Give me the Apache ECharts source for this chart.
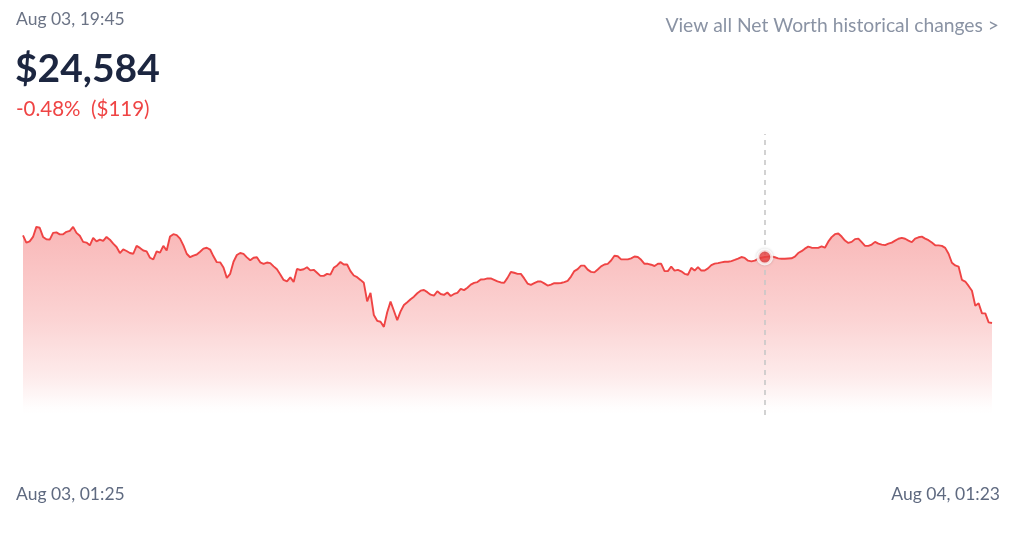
<!DOCTYPE html>
<html>
<head>
<meta charset="utf-8">
<script src="https://cdn.jsdelivr.net/npm/echarts@6/dist/echarts.min.js"></script>
<style>
html,body{margin:0;padding:0;background:#fff;}
#chart{width:1024px;height:533px;}
</style>
</head>
<body>
<div id="chart"></div>
<script>
// ---- data ----
const startLabel = 'Aug 03, 01:25';
const endLabel = 'Aug 04, 01:23';
const hoverLabel = 'Aug 03, 19:45';
const hoverValueText = '$24,584';
const changeText = '-0.48%  ($119)';
const linkText = 'View all Net Worth historical changes >';
const hoverIndex = 222;

const values = [
24703,24663,24670,24694,24749,24744,24694,24681,24679,24716,
24719,24708,24708,24722,24727,24749,24716,24700,24667,24663,
24648,24689,24670,24679,24672,24694,24679,24657,24639,24606,
24626,24617,24606,24602,24645,24634,24620,24615,24580,24571,
24615,24608,24645,24620,24696,24709,24704,24685,24648,24602,
24583,24592,24598,24613,24630,24635,24625,24588,24556,24555,
24527,24470,24492,24558,24595,24606,24601,24582,24566,24580,
24583,24555,24547,24554,24551,24533,24517,24489,24459,24451,
24473,24448,24519,24513,24517,24528,24511,24514,24498,24481,
24481,24492,24488,24525,24538,24557,24543,24543,24507,24483,
24474,24459,24443,24342,24388,24267,24235,24230,24202,24282,
24340,24290,24239,24287,24322,24337,24353,24367,24386,24400,
24404,24392,24378,24373,24397,24382,24377,24390,24371,24382,
24388,24410,24403,24416,24433,24443,24447,24461,24462,24467,
24467,24459,24451,24445,24443,24470,24502,24498,24492,24492,
24467,24439,24432,24441,24450,24450,24440,24428,24433,24441,
24441,24442,24447,24454,24477,24507,24518,24537,24537,24515,
24503,24500,24516,24533,24543,24547,24565,24591,24588,24571,
24571,24571,24577,24587,24584,24569,24547,24547,24542,24535,
24547,24547,24507,24507,24532,24510,24514,24506,24492,24487,
24525,24510,24529,24510,24510,24522,24540,24548,24551,24555,
24558,24558,24562,24568,24575,24584,24579,24564,24560,24564,
24575,24580,24584,24586,24587,24583,24577,24575,24575,24576,
24577,24586,24606,24616,24630,24641,24635,24634,24634,24642,
24635,24668,24693,24709,24713,24696,24674,24661,24667,24682,
24685,24665,24645,24645,24652,24667,24657,24652,24649,24657,
24663,24674,24684,24689,24684,24674,24665,24685,24692,24696,
24685,24676,24663,24648,24648,24645,24634,24602,24553,24538,
24532,24459,24450,24426,24400,24318,24331,24276,24276,24227,
24223
];
const yMin = 23720;
const yMax = 25257;

const categories = values.map((v, i) => String(i));

const chart = echarts.init(document.getElementById('chart'), null, {renderer: 'canvas'});
const FONT = 'Lato, "Noto Sans", sans-serif';
chart.setOption({
  animation: false,
  backgroundColor: '#ffffff',
  grid: {left: 23, right: 32, top: 134, bottom: 118, containLabel: false},
  xAxis: {
    type: 'category',
    data: categories,
    boundaryGap: false,
    show: false
  },
  yAxis: {
    type: 'value',
    min: yMin,
    max: yMax,
    show: false,
    splitLine: {show: false}
  },
  series: [
    {
      type: 'line',
      data: values,
      showSymbol: false,
      symbol: 'none',
      lineStyle: {color: '#ef4444', width: 1.9},
      areaStyle: {
        color: new echarts.graphic.LinearGradient(0, 0, 0, 1, [
          {offset: 0, color: 'rgba(239,68,68,0.55)'},
          {offset: 0.5, color: 'rgba(239,68,68,0.33)'},
          {offset: 0.8, color: 'rgba(239,68,68,0.15)'},
          {offset: 0.96, color: 'rgba(239,68,68,0.01)'},
          {offset: 1, color: 'rgba(239,68,68,0)'}
        ])
      },
      markLine: {
        silent: true,
        symbol: 'none',
        label: {show: false},
        lineStyle: {color: '#c8c8c8', type: [5, 5], width: 1.6},
        data: [{xAxis: hoverIndex}]
      },
      z: 2
    },
    {
      type: 'scatter',
      data: [[hoverIndex, values[hoverIndex]]],
      symbol: 'circle',
      symbolSize: 14,
      itemStyle: {
        color: '#f04343',
        borderColor: '#ffffff',
        borderWidth: 3,
        shadowColor: 'rgba(0,0,0,0.18)',
        shadowBlur: 3
      },
      z: 5
    }
  ],
  graphic: [
    {type: 'text', left: 16, top: 10, style: {text: hoverLabel, font: '17.5px ' + FONT, fill: '#6b7385'}},
    {type: 'text', left: 15, top: 50, style: {text: hoverValueText, font: 'bold 39px ' + FONT, fill: '#1c2640'}},
    {type: 'text', left: 16, top: 99, style: {text: changeText, font: '20.5px ' + FONT, fill: '#ef4444'}},
    {type: 'text', right: 25, top: 16, style: {text: linkText, font: '19.3px ' + FONT, fill: '#8a93a4'}},
    {type: 'text', left: 16, top: 485, style: {text: startLabel, font: '17.5px ' + FONT, fill: '#5f6a80'}},
    {type: 'text', right: 24, top: 485, style: {text: endLabel, font: '17.5px ' + FONT, fill: '#5f6a80'}}
  ]
});
</script>
</body>
</html>
